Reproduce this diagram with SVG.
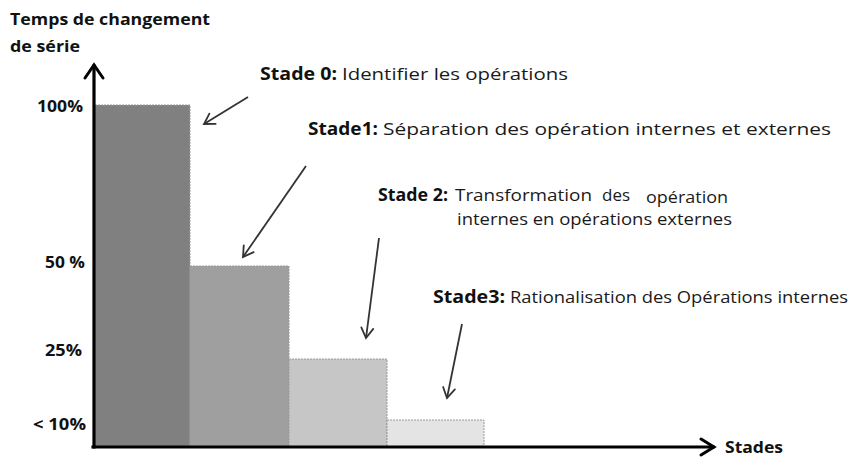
<svg xmlns="http://www.w3.org/2000/svg" width="850" height="460" viewBox="0 0 850 460">
  <style>
    text { font-family: "Open Sans", "Liberation Sans", sans-serif; fill: #111; }
    .b { font-weight: bold; font-size: 17px; }
    .r { font-weight: normal; font-size: 17px; fill: #1a1a1a; }
    .lbl { font-weight: bold; font-size: 16px; }
    .bar { stroke: #9a9a9a; stroke-width: 1; stroke-dasharray: 2 1; }
    .axis { fill: none; stroke: #000; stroke-width: 3.2; stroke-linecap: square; }
    .axhead { fill: none; stroke: #000; stroke-width: 3; stroke-linecap: round; stroke-linejoin: miter; }
    .pointer { fill: none; stroke: #333; stroke-width: 1.8; marker-end: url(#vhead); }
  </style>
  <defs>
    <marker id="vhead" markerUnits="userSpaceOnUse" markerWidth="16" markerHeight="16" viewBox="-12 -8 14 16" refX="0" refY="0" orient="auto">
      <path d="M-10,-6 L0,0 L-10,6" fill="none" stroke="#333" stroke-width="1.8" stroke-linecap="round"/>
    </marker>
  </defs>
  <rect width="850" height="460" fill="#fff"/>

  <!-- bars: change-over time per stage -->
  <g id="bar-stade0"><rect class="bar" x="95" y="105" width="95" height="342" fill="#808080"/></g>
  <g id="bar-stade1"><rect class="bar" x="190" y="266" width="99" height="181" fill="#9f9f9f"/></g>
  <g id="bar-stade2"><rect class="bar" x="289" y="359" width="98" height="88" fill="#c6c6c6"/></g>
  <g id="bar-stade3"><rect class="bar" x="387" y="420" width="97" height="27" fill="#e4e4e4"/></g>

  <!-- axes -->
  <g id="axes">
    <path class="axis" d="M94,447 L94,66"/>
    <path class="axhead" d="M85,78 L94,65 L103,78"/>
    <path class="axis" d="M93,447 L713,447"/>
    <path class="axhead" d="M701,439 L714,447 L701,455"/>
  </g>

  <!-- axis titles and tick labels -->
  <g id="y-title">
    <text class="lbl" x="10" y="25" textLength="200" lengthAdjust="spacingAndGlyphs">Temps de changement</text>
    <text class="lbl" x="10" y="52" textLength="70" lengthAdjust="spacingAndGlyphs">de série</text>
  </g>
  <g id="y-ticks">
    <text class="lbl" x="37" y="112" textLength="46" lengthAdjust="spacingAndGlyphs">100%</text>
    <text class="lbl" x="45" y="268" textLength="40" lengthAdjust="spacingAndGlyphs">50 %</text>
    <text class="lbl" x="45" y="356" textLength="37" lengthAdjust="spacingAndGlyphs">25%</text>
    <text class="lbl" x="33" y="430" textLength="53" lengthAdjust="spacingAndGlyphs">&lt; 10%</text>
  </g>
  <g id="x-title">
    <text class="lbl" x="725" y="453" textLength="58" lengthAdjust="spacingAndGlyphs">Stades</text>
  </g>

  <!-- stage callouts -->
  <g id="label-stade0">
    <text class="b" x="260" y="80" textLength="77" lengthAdjust="spacingAndGlyphs">Stade 0:</text>
    <text class="r" x="342" y="80" textLength="226" lengthAdjust="spacingAndGlyphs">Identifier les opérations</text>
  </g>
  <g id="label-stade1">
    <text class="b" x="308" y="135" textLength="70" lengthAdjust="spacingAndGlyphs">Stade1:</text>
    <text class="r" x="383" y="135" textLength="448" lengthAdjust="spacingAndGlyphs">Séparation des opération internes et externes</text>
  </g>
  <g id="label-stade2">
    <text class="b" x="378" y="201" textLength="70" lengthAdjust="spacingAndGlyphs">Stade 2:</text>
    <text class="r" x="455" y="201" textLength="137" lengthAdjust="spacingAndGlyphs">Transformation</text>
    <text class="r" x="602" y="201" textLength="28" lengthAdjust="spacingAndGlyphs">des</text>
    <text class="r" x="646" y="203" style="font-size:16px" textLength="82" lengthAdjust="spacingAndGlyphs">opération</text>
    <text class="r" x="457" y="225" textLength="275" lengthAdjust="spacingAndGlyphs">internes en opérations externes</text>
  </g>
  <g id="label-stade3">
    <text class="b" x="433" y="303" textLength="72" lengthAdjust="spacingAndGlyphs">Stade3:</text>
    <text class="r" x="510" y="303" textLength="338" lengthAdjust="spacingAndGlyphs">Rationalisation des Opérations internes</text>
  </g>

  <!-- pointers from callouts to bars -->
  <g id="connectors">
    <path class="pointer" d="M248,97 L204,124"/>
    <path class="pointer" d="M306,166 L243,257"/>
    <path class="pointer" d="M379,238 L366,338"/>
    <path class="pointer" d="M462,324 L447,398"/>
  </g>
</svg>
